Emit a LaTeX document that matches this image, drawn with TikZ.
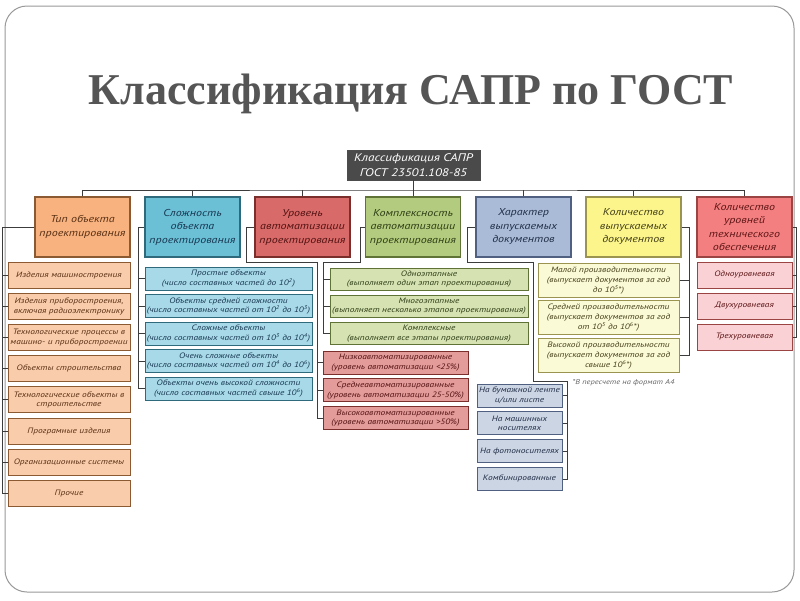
\documentclass[tikz,border=0pt]{standalone}
\usepackage{fontspec}
\setmainfont{PT Sans}
\newfontfamily\gost[FakeStretch=1.2]{PT Sans}
\newfontfamily\titlefont{Liberation Serif}
\definecolor{ttl}{HTML}{555555}
\definecolor{rootfill}{HTML}{4A4A4A}
\definecolor{wire}{HTML}{3C3C3C}
% columns: header fill / item fill / border / text
\definecolor{typH}{HTML}{F7B27F}\definecolor{typI}{HTML}{F9CDAC}\definecolor{typD}{HTML}{8C5A32}\definecolor{typT}{HTML}{5A3014}
\definecolor{slH}{HTML}{6CC0D6}\definecolor{slI}{HTML}{A8D9E8}\definecolor{slD}{HTML}{2F6A7C}\definecolor{slT}{HTML}{183852}
\definecolor{urH}{HTML}{D86B69}\definecolor{urI}{HTML}{E49C9A}\definecolor{urD}{HTML}{7A2F2C}\definecolor{urT}{HTML}{521212}
\definecolor{kmH}{HTML}{B3CB7E}\definecolor{kmI}{HTML}{D6E2B2}\definecolor{kmD}{HTML}{5E7335}\definecolor{kmT}{HTML}{2E3E16}
\definecolor{chH}{HTML}{A9BBD7}\definecolor{chI}{HTML}{CBD5E4}\definecolor{chD}{HTML}{4F6080}\definecolor{chT}{HTML}{232F48}
\definecolor{kolH}{HTML}{FBF58B}\definecolor{kolI}{HTML}{FBFAD6}\definecolor{kolD}{HTML}{9A9450}\definecolor{kolT}{HTML}{44401A}
\definecolor{levH}{HTML}{F47F80}\definecolor{levI}{HTML}{FAD2D6}\definecolor{levD}{HTML}{9A4444}\definecolor{levT}{HTML}{5E1616}
\tikzstyle{hdr}=[draw, line width=1.2pt, minimum width=95pt, minimum height=60pt, text width=92pt, align=center, inner sep=0pt, font=\gost\itshape\fontsize{10}{13.5}\selectfont]
\tikzstyle{item}=[draw, line width=1pt, align=center, inner sep=0pt, font=\gost\itshape\fontsize{7.8}{9.6}\selectfont]
\tikzstyle{wire}=[draw=wire, line width=0.8pt]

\begin{document}
\begin{tikzpicture}[x=1pt, y=-1pt]
        \useasboundingbox (0,0) rectangle (800,600);
        \fill[white] (0,0) rectangle (800,600);
        \draw[rounded corners=22pt, draw=black!40, line width=1pt] (5,6) rectangle (794,592);

        % Titel
        \node[font=\titlefont\bfseries\fontsize{44}{50}\selectfont, text=ttl] (title) at (411,94) {Классификация САПР по ГОСТ};

        % Wurzel
        \node[fill=rootfill, draw=black!70, minimum width=133pt, minimum height=30pt, align=center, inner sep=0pt, text=white, font=\gost\itshape\fontsize{11}{14.5}\selectfont] (root) at (413.5,165) {Классификация САПР\\ГОСТ 23501.108-85};

        % Kopfzeile
        \node[hdr, fill=typH, draw=typD, text=typT] (htyp) at (82.5,227) {Тип объекта\\проектирования};
        \node[hdr, fill=slH, draw=slD, text=slT] (hsl) at (192.5,227) {Сложность\\объекта\\проектирования};
        \node[hdr, fill=urH, draw=urD, text=urT] (hur) at (302.5,227) {Уровень\\автоматизации\\проектирования};
        \node[hdr, fill=kmH, draw=kmD, text=kmT] (hkm) at (413,227) {Комплексность\\автоматизации\\проектирования};
        \node[hdr, fill=chH, draw=chD, text=chT] (hch) at (523.5,227) {Характер\\выпускаемых\\документов};
        \node[hdr, fill=kolH, draw=kolD, text=kolT] (hkol) at (633.5,227) {Количество\\выпускаемых\\документов};
        \node[hdr, fill=levH, draw=levD, text=levT] (hlev) at (744.5,227) {Количество\\уровней\\технического\\обеспечения};

        % Tip objekta
        \foreach \t [count=\i] in {{Изделия машиностроения}, {Изделия приборостроения,\\включая радиоэлектронику}, {Технологические процессы в\\машино- и приборостроении}, {Объекты строительства}, {Технологические объекты в\\строительстве}, {Програмные изделия}, {Организационные системы}, {Прочие}}
            \node[item, fill=typI, draw=typD, text=typT, minimum width=122pt, minimum height=26pt] (typ\i) at (69,{275+31.2*(\i-1)}) {\t};

        % Slozhnost
        \foreach \t [count=\i] in {{Простые объекты\\(число составных частей до 10\textsuperscript{2})}, {Объекты средней сложности\\(число составных частей от 10\textsuperscript{2} до 10\textsuperscript{3})}, {Сложные объекты\\(число составных частей от 10\textsuperscript{3} до 10\textsuperscript{4})}, {Очень сложные объекты\\(число составных частей от 10\textsuperscript{4} до 10\textsuperscript{6})}, {Объекты очень высокой сложности\\(число составных частей свыше 10\textsuperscript{6})}}
            \node[item, fill=slI, draw=slD, text=slT, minimum width=167pt, minimum height=23pt] (sl\i) at (228.5,{278.5+27.5*(\i-1)}) {\t};

        % Uroven
        \foreach \t [count=\i] in {{Низкоавтоматизированные\\(уровень автоматизации <25\%)}, {Среднеавтоматизированные\\(уровень автоматизации 25-50\%)}, {Высокоавтоматизированные\\(уровень автоматизации >50\%)}}
            \node[item, fill=urI, draw=urD, text=urT, minimum width=145pt, minimum height=23pt] (ur\i) at (395.5,{362.5+27.8*(\i-1)}) {\t};

        % Kompleksnost
        \foreach \t [count=\i] in {{Одноэтапные\\(выполняет один этап проектирования)}, {Многоэтапные\\(выполняет несколько этапов проектирования)}, {Комплексные\\(выполняет все этапы проектирования)}}
            \node[item, fill=kmI, draw=kmD, text=kmT, minimum width=198pt, minimum height=22pt] (km\i) at (429,{279+27.3*(\i-1)}) {\t};

        % Harakter
        \foreach \t [count=\i] in {{На бумажной ленте\\и/или листе}, {На машинных\\носителях}, {На фотоносителях}, {Комбинированные}}
            \node[item, fill=chI, draw=chD, text=chT, minimum width=85pt, minimum height=23pt] (ch\i) at (519.5,{395.5+27.8*(\i-1)}) {\t};

        % Kolichestvo dokumentov
        \foreach \t [count=\i] in {{Малой производительности\\(выпускает документов за год\\до 10\textsuperscript{5}*)}, {Средней производительности\\(выпускает документов за год\\от 10\textsuperscript{5} до 10\textsuperscript{6}*)}, {Высокой производительности\\(выпускает документов за год\\свыше 10\textsuperscript{6}*)}}
            \node[item, fill=kolI, draw=kolD, text=kolT, minimum width=141pt, minimum height=34pt, font=\gost\itshape\fontsize{7.8}{10}\selectfont] (kol\i) at (608.5,{280.5+37.3*(\i-1)}) {\t};

        % Urovni
        \foreach \t [count=\i] in {Одноуровневая, Двухуровневая, Трехуровневая}
            \node[item, fill=levI, draw=levD, text=levT, minimum width=95pt, minimum height=26pt] (lev\i) at (744.5,{275+31*(\i-1)}) {\t};

        \node[anchor=west, text=black!60, font=\gost\itshape\fontsize{7}{8}\selectfont] (note) at (569,383) {*В пересчете на формат А4};

        % Soedinenija
        \coordinate (bus) at (413.5,190);
        \draw[wire] (root) -- (bus);
        \draw[wire] (htyp.north) |- (bus) -| (hlev.north);
        \foreach \h in {hsl, hur, hkm, hch, hkol}
            \draw[wire] (\h.north) -- (\h.north |- bus);

        \coordinate (btyp) at (2,227);
        \draw[wire] (htyp.west) -- (btyp) |- (typ8.west);
        \foreach \i in {1,...,7}
            \draw[wire] (btyp |- typ\i.west) -- (typ\i.west);

        \coordinate (bsl) at (138,227);
        \draw[wire] (hsl.west) -- (bsl) |- (sl5.west);
        \foreach \i in {1,...,4}
            \draw[wire] (bsl |- sl\i.west) -- (sl\i.west);

        \coordinate (bur) at (317,262);
        \draw[wire] (hur.west) -- ++(-8,0) |- (bur) |- (ur3.west);
        \foreach \i in {1,2}
            \draw[wire] (bur |- ur\i.west) -- (ur\i.west);

        \coordinate (bkm) at (323,262);
        \draw[wire] (hkm.west) -- ++(-5,0) |- (bkm) |- (km3.west);
        \foreach \i in {1,2}
            \draw[wire] (bkm |- km\i.west) -- (km\i.west);

        \coordinate (bch1) at (533,262);
        \coordinate (bch2) at (567,381);
        \draw[wire] (hch.west) -- ++(-8,0) |- (bch1) |- (bch2) |- (ch4.east);
        \foreach \i in {1,2,3}
            \draw[wire] (bch2 |- ch\i.east) -- (ch\i.east);

        \coordinate (bkol) at (689,227);
        \draw[wire] (hkol.east) -- (bkol) |- (kol3.east);
        \foreach \i in {1,2}
            \draw[wire] (bkol |- kol\i.east) -- (kol\i.east);

        \coordinate (blev) at (796,227);
        \draw[wire] (hlev.east) -- (blev) |- (lev3.east);
        \foreach \i in {1,2}
            \draw[wire] (blev |- lev\i.east) -- (lev\i.east);
    \end{tikzpicture}
\end{document}
